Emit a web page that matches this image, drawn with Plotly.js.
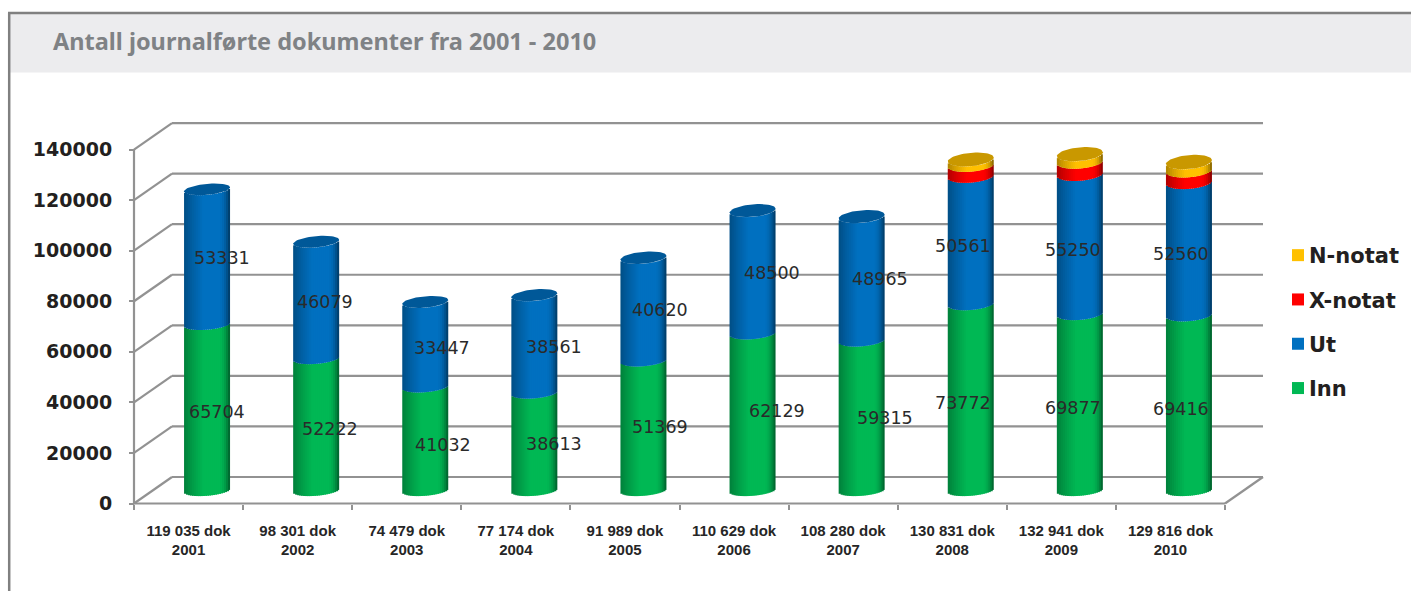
<!DOCTYPE html>
<html>
<head>
<meta charset="utf-8">
<script src="https://cdn.plot.ly/plotly-3.0.1.min.js"></script>
<style>html,body{margin:0;padding:0;background:#fff;overflow:hidden}</style>
</head>
<body>
<div id="chart" style="width:1411px;height:591px"></div>
<script>
// ---- data ----
const years = ['2001','2002','2003','2004','2005','2006','2007','2008','2009','2010'];
const totals = ['119 035 dok','98 301 dok','74 479 dok','77 174 dok','91 989 dok','110 629 dok','108 280 dok','130 831 dok','132 941 dok','129 816 dok'];
const inn = [65704,52222,41032,38613,51369,62129,59315,73772,69877,69416];
const ut  = [53331,46079,33447,38561,40620,48500,48965,50561,55250,52560];
const xNotat = [0,0,0,0,0,0,0,4350,4880,4610];
const nNotat = [0,0,0,0,0,0,0,2148,2934,3230];
const yTicks = [0,20000,40000,60000,80000,100000,120000,140000];

// ---- label nudges in pixels (right, down), style only ----
const innNudgeX = [10,14,18,20,17,24,23,-8,-7,-8];
const innNudgeY = [5,5,6.6,2.6,1.7,-0.7,2.7,6,6,6.5];
const utNudgeX  = [15,9,17,20,17,19,18,-8,-7,-8];
const utNudgeY  = [1,2,3.8,3,1,1,0.6,6,6,6];

// ---- geometry ----
const W = 1411, H = 591;
const pxPerCat = 109.1, pxPerVal = 353.9 / 140000;
const frontLeft = 134, frontZero = 503.5, depthX = 38, depthY = 26.5;
const barShift = 18.5, barHalf = 23, tilt = 2;
const plotL = 130, plotR = 1270, plotT = 100, plotB = 510;
const lineCol = '#929292';

const seriesDefs = [
  {name:'Inn', rank:4, vals:inn, rgb:[0,184,84], nudgeX:innNudgeX, nudgeY:innNudgeY, label:true},
  {name:'Ut', rank:3, vals:ut, rgb:[0,112,192], nudgeX:utNudgeX, nudgeY:utNudgeY, label:true},
  {name:'X-notat', rank:2, vals:xNotat, rgb:[255,0,0]},
  {name:'N-notat', rank:1, vals:nNotat, rgb:[255,192,0]}
];

function shade(t){
  if (t < 0.42) return 0.68 + 0.32 * Math.pow(t / 0.42, 0.8);
  if (t <= 0.74) return 1;
  return 1 - 0.52 * Math.pow((t - 0.74) / 0.26, 2.2);
}
function rgbStr(c, f){ return `rgb(${Math.round(c[0]*f)},${Math.round(c[1]*f)},${Math.round(c[2]*f)})`; }
function ellB(i, v){ return 5.5 + 1.5 * (i / 9) * (v / 130000); }
function lowerOffset(u, i, v){ // in value units
  return (-ellB(i, v) * Math.sqrt(Math.max(0, 1 - u * u)) + tilt * u) / pxPerVal;
}

const cum = years.map(() => 0);
const traces = [];
const annotations = [];
const stripW = 2;
const nStrips = 2 * barHalf / stripW;
const peakStrip = Math.floor(nStrips * 0.6);

seriesDefs.forEach((s) => {
  const baseStart = cum.slice();
  for (let k = 0; k < nStrips; k++) {
    const uMid = ((k + 0.5) * stripW - barHalf) / barHalf;
    const t = (k + 0.5) / nStrips;
    const xv = [], bases = [], heights = [];
    years.forEach((_, i) => {
      if (!s.vals[i]) return;
      const b0 = baseStart[i], b1 = b0 + s.vals[i];
      const lo = b0 + lowerOffset(uMid, i, b0);
      const hi = b1 + lowerOffset(uMid, i, b1);
      xv.push(i); bases.push(lo); heights.push(hi - lo);
    });
    const isKey = k === peakStrip;
    traces.push({
      type:'bar', xaxis:'x', yaxis:'y2', x:xv, y:heights, base:bases,
      width:(k === nStrips - 1 ? stripW : stripW + 1) / pxPerCat,
      offset:(barShift - barHalf + k * stripW) / pxPerCat,
      marker:{color:isKey ? rgbStr(s.rgb,1) : rgbStr(s.rgb, shade(t)), line:{width:0}},
      name:s.name, legendgroup:s.name, legendrank:s.rank, showlegend:isKey, hoverinfo:'skip'
    });
  }
  years.forEach((_, i) => {
    if (!s.vals[i]) return;
    if (s.label) {
      annotations.push({
        xref:'x', yref:'y2', x:i + barShift / pxPerCat, y:baseStart[i] + s.vals[i] / 2,
        xshift:s.nudgeX[i], yshift:-s.nudgeY[i], text:String(s.vals[i]), showarrow:false,
        font:{family:'DejaVu Sans', size:17.5, color:'#2a2a2a'}, xanchor:'center', yanchor:'middle'
      });
    }
    cum[i] += s.vals[i];
  });
});

// top caps of each cylinder
years.forEach((_, i) => {
  const top = cum[i];
  const topSeries = seriesDefs.filter(s => s.vals[i]).pop();
  const cx = [], cy = [], b = ellB(i, top);
  for (let a = 0; a <= 60; a++) {
    const th = a / 60 * 2 * Math.PI;
    cx.push(i + (barShift + barHalf * Math.cos(th)) / pxPerCat);
    cy.push(top + (b * Math.sin(th) + tilt * Math.cos(th)) / pxPerVal);
  }
  traces.push({
    type:'scatter', mode:'lines', xaxis:'x', yaxis:'y2', x:cx, y:cy, fill:'toself',
    fillcolor:rgbStr(topSeries.rgb, 0.79), line:{width:0}, showlegend:false, hoverinfo:'skip'
  });
});

// ---- wall and floor lines ----
const shapes = [];
const dxv = depthX / pxPerCat, dyv = depthY / pxPerVal;
const xLeft = -0.5, xRight = 9.5;
function seg(x0, y0, x1, y1, w){
  return {type:'line', xref:'x', yref:'y', x0, y0, x1, y1, layer:'below', line:{color:lineCol, width:w || 2.2}};
}
yTicks.forEach(v => {
  shapes.push(seg(xLeft, v, xLeft + dxv, v + dyv));
  shapes.push(seg(xLeft + dxv, v + dyv, xRight + dxv, v + dyv));
});
shapes.push(seg(xLeft, 0, xLeft, 140000));
shapes.push(seg(xLeft, 0, xRight, 0));
shapes.push(seg(xRight, 0, xRight + dxv, dyv));

// ---- panel frame ----
const px = v => v / W, py = v => 1 - v / H;
shapes.push({type:'rect', xref:'paper', yref:'paper', x0:px(10), x1:1, y0:py(72.5), y1:py(13), layer:'below', fillcolor:'#ECECEE', line:{width:0}});
shapes.push({type:'line', xref:'paper', yref:'paper', x0:px(8), x1:1, y0:py(13), y1:py(13), layer:'below', line:{color:'#808080', width:2.5}});
shapes.push({type:'line', xref:'paper', yref:'paper', x0:px(9.2), x1:px(9.2), y0:py(13), y1:0, layer:'below', line:{color:'#808080', width:2.5}});

const xAt = p => -0.5 + (p - frontLeft) / pxPerCat;
const layout = {
  width:W, height:H, margin:{l:0,r:0,t:0,b:0}, paper_bgcolor:'#fff', plot_bgcolor:'rgba(0,0,0,0)',
  barmode:'overlay', hovermode:false, dragmode:false,
  title:{text:'Antall journalførte dokumenter fra 2001 - 2010', x:px(53), xanchor:'left', y:py(41.5), yanchor:'middle',
         font:{family:'Noto Sans', size:23.5, weight:700, color:'#7f8285'}},
  xaxis:{
    domain:[px(plotL), px(plotR)], range:[xAt(plotL), xAt(plotR)], anchor:'free', position:py(frontZero),
    tickmode:'array', tickvals:years.map((_, i) => i), ticktext:years.map((y, i) => totals[i] + '<br>' + y),
    ticks:'', showgrid:false, zeroline:false, showline:false, ticklabelstandoff:16,
    tickfont:{family:'Liberation Sans', size:15, weight:700, color:'#262626'},
    minor:{tickmode:'array', tickvals:Array.from({length:11}, (_, i) => i - 0.5), ticks:'outside', ticklen:5, tickwidth:1.5, tickcolor:lineCol, showgrid:false}
  },
  yaxis:{
    domain:[py(plotB), py(plotT)], range:[(frontZero - plotB) / pxPerVal, (frontZero - plotT) / pxPerVal],
    anchor:'free', position:px(frontLeft),
    tickmode:'array', tickvals:yTicks, ticks:'outside', ticklen:5, tickwidth:1.5, tickcolor:lineCol,
    showgrid:false, zeroline:false, showline:false, ticklabelstandoff:13,
    tickfont:{family:'DejaVu Sans', size:19, weight:700, color:'#231f20'}, tickformat:'d'
  },
  yaxis2:{
    overlaying:'y', domain:[py(plotB), py(plotT)],
    range:[(frontZero - depthY / 2 - plotB) / pxPerVal, (frontZero - depthY / 2 - plotT) / pxPerVal],
    visible:false, anchor:'x'
  },
  legend:{
    x:px(1269), y:py(235), xanchor:'left', yanchor:'top', traceorder:'grouped', tracegroupgap:14,
    font:{family:'DejaVu Sans', size:21, weight:700, color:'#231f20'}, bgcolor:'rgba(0,0,0,0)', itemclick:false, itemdoubleclick:false
  },
  shapes, annotations
};

Plotly.newPlot('chart', traces, layout, {displayModeBar:false, responsive:false}).then(() => {
  document.querySelectorAll('.legend .legendsymbols').forEach(el => el.setAttribute('transform', 'translate(9,0)'));
});
</script>
</body>
</html>
